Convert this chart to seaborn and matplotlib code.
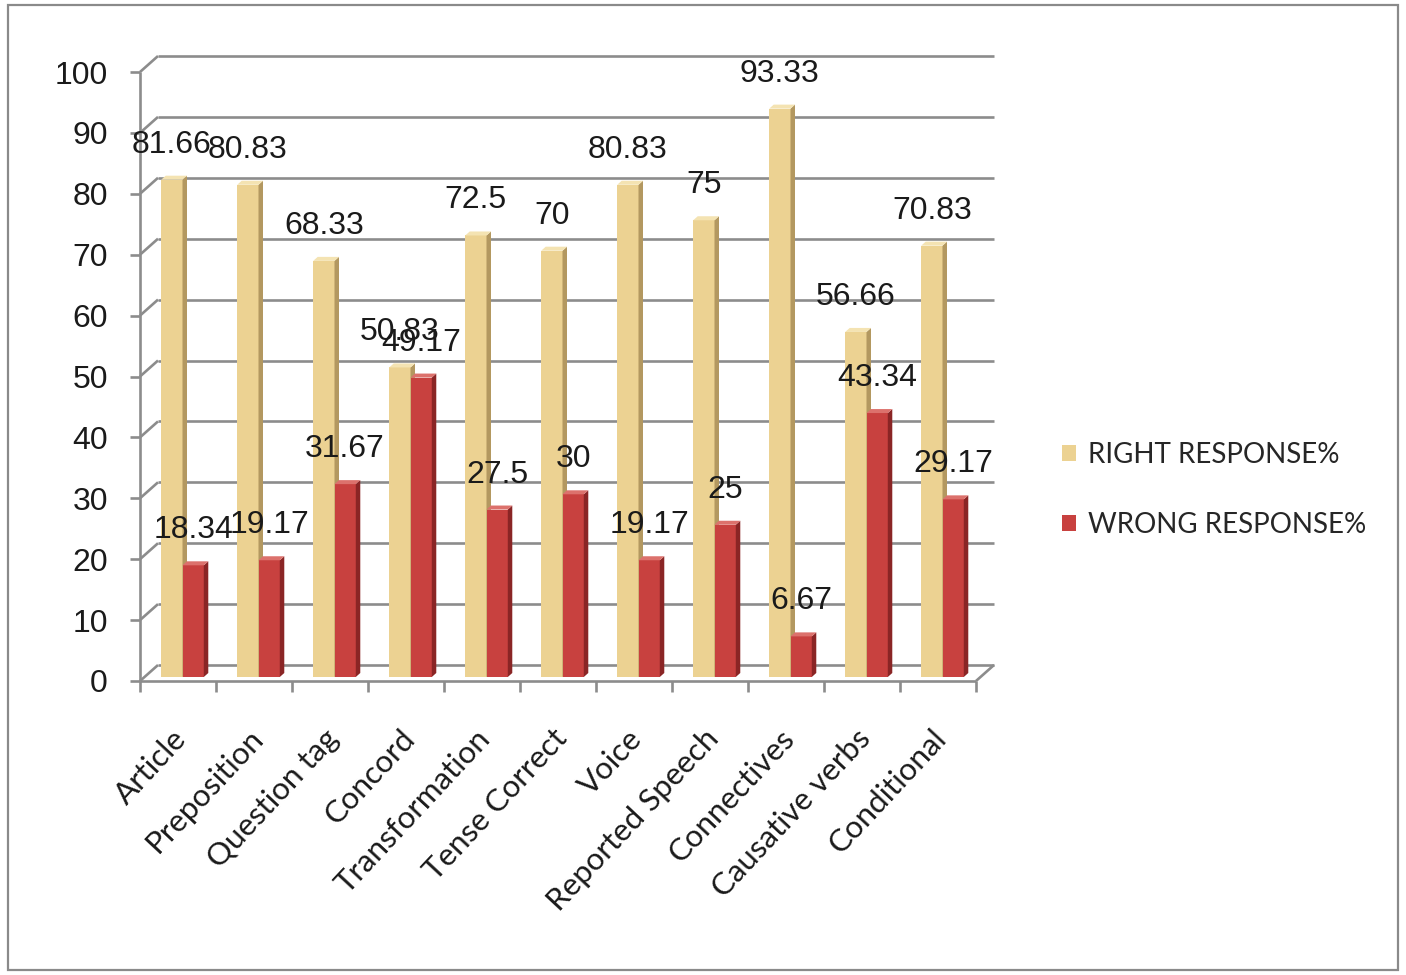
import matplotlib
matplotlib.use("Agg")
import matplotlib.pyplot as plt
from matplotlib.patches import Polygon, Patch, Rectangle
from matplotlib.lines import Line2D
from matplotlib.transforms import ScaledTranslation
import seaborn as sns
import pandas as pd

# ---- data -------------------------------------------------------------
categories = ["Article", "Preposition", "Question tag", "Concord", "Transformation",
              "Tense Correct", "Voice", "Reported Speech", "Connectives",
              "Causative verbs", "Conditional"]
right_response = [81.66, 80.83, 68.33, 50.83, 72.5, 70, 80.83, 75, 93.33, 56.66, 70.83]
wrong_response = [18.34, 19.17, 31.67, 49.17, 27.5, 30, 19.17, 25, 6.67, 43.34, 29.17]
series_names = ["RIGHT RESPONSE%", "WRONG RESPONSE%"]
y_ticks = list(range(0, 101, 10))

df = pd.DataFrame({
    "category": categories * 2,
    "value": right_response + wrong_response,
    "series": [series_names[0]] * len(categories) + [series_names[1]] * len(categories),
})

# ---- styling ----------------------------------------------------------
GOLD_FRONT, GOLD_SIDE, GOLD_TOP = "#ECD292", "#B39860", "#F4E3B2"
RED_FRONT, RED_SIDE, RED_TOP = "#C8413F", "#8A2525", "#DC716C"
GRID = "#8C8C8C"
NUM_FONT = "Liberation Sans"
TXT_FONT = "Lato"

sns.set_theme(style="white")
plt.rcParams["font.family"] = [NUM_FONT, "DejaVu Sans"]

W, H = 1406, 975
fig = plt.figure(figsize=(W / 100, H / 100), dpi=100)
fig.patch.set_facecolor("white")

# axes = front plane of the columns
ax_l, ax_r, ax_y0, ax_y100 = 144.5, 980.5, 677, 68
ax = fig.add_axes([ax_l / W, (H - ax_y0) / H, (ax_r - ax_l) / W, (ax_y0 - ax_y100) / H])
ax.set_facecolor("none")

sns.barplot(data=df, x="category", y="value", hue="series",
            palette=[GOLD_FRONT, RED_FRONT], width=0.56, saturation=1,
            edgecolor="none", linewidth=0, legend=False, ax=ax)
ax.set_xlim(-0.5, len(categories) - 0.5)
ax.set_ylim(0, 100)
for s in ax.spines.values():
    s.set_visible(False)
ax.set_xlabel("")
ax.set_ylabel("")

# pixel -> data unit conversion
sx = len(categories) / (ax_r - ax_l)
sy = 100 / (ax_y0 - ax_y100)
# depth offsets (pixels): back wall and front floor edge relative to column plane
bx, by = 13.5 * sx, 12 * sy
fx, fy = 4.5 * sx, 4 * sy
dx, dy = 4.5 * sx, 4 * sy   # column depth

line_kw = dict(color=GRID, lw=1.9, clip_on=False, solid_capstyle="butt", zorder=1)
x_lo, x_hi = -0.5, len(categories) - 0.5

# back wall gridlines + diagonals to the front axis
for v in y_ticks:
    ax.add_line(Line2D([x_lo + bx, x_hi + bx], [v + by, v + by], **line_kw))
    ax.add_line(Line2D([x_lo - fx, x_lo + bx], [v - fy, v + by], **line_kw))
    ax.add_line(Line2D([x_lo - fx - 10 * sx, x_lo - fx], [v - fy, v - fy], **line_kw))
# front vertical axis
ax.add_line(Line2D([x_lo - fx, x_lo - fx], [-fy, 100 - fy], **line_kw))
# floor front edge, right edge and category ticks
ax.add_line(Line2D([x_lo - fx, x_hi - fx], [-fy, -fy], **line_kw))
ax.add_line(Line2D([x_hi - fx, x_hi + bx], [-fy, by], **line_kw))
for k in range(len(categories) + 1):
    ax.add_line(Line2D([k - 0.5 - fx, k - 0.5 - fx], [-fy, -fy - 11 * sy], **line_kw))

# 3-D faces for the columns
face_cols = [(GOLD_SIDE, GOLD_TOP), (RED_SIDE, RED_TOP)]
for h, cont in enumerate(ax.containers):
    side_c, top_c = face_cols[h]
    for p in cont.patches:
        p.set_zorder(3 + 2 * h)
        x0, w, ht = p.get_x(), p.get_width(), p.get_height()
        x1 = x0 + w
        side = Polygon([(x1, 0), (x1 + dx, dy), (x1 + dx, ht + dy), (x1, ht)],
                       closed=True, facecolor=side_c, edgecolor="none",
                       zorder=3 + 2 * h, clip_on=False)
        top = Polygon([(x0, ht), (x0 + dx, ht + dy), (x1 + dx, ht + dy), (x1, ht)],
                      closed=True, facecolor=top_c, edgecolor="none",
                      zorder=3 + 2 * h, clip_on=False)
        ax.add_patch(side)
        ax.add_patch(top)

# value labels above every column
for cont in ax.containers:
    for p in cont.patches:
        val = p.get_height()
        ax.annotate(f"{val:g}", (p.get_x() + p.get_width() / 2, val),
                    xytext=(0, 25.2), textcoords="offset points",
                    ha="center", va="center", fontsize=23, color="#1a1a1a",
                    family=[NUM_FONT, "DejaVu Sans"], zorder=10, annotation_clip=False)

# y tick labels
ax.set_yticks(y_ticks)
ax.set_yticklabels([str(v) for v in y_ticks], fontsize=23, color="#1a1a1a",
                   family=[NUM_FONT, "DejaVu Sans"])
ax.tick_params(axis="y", length=0, pad=26.3, left=False)
for lab in ax.get_yticklabels():
    lab.set_transform(lab.get_transform() + ScaledTranslation(0, -0.04, fig.dpi_scale_trans))

# x tick labels
ax.set_xticks(range(len(categories)))
ax.set_xticklabels(categories, rotation=47, ha="right", rotation_mode="anchor",
                   fontsize=22.5, color="#1a1a1a", family=[TXT_FONT, "DejaVu Sans"])
ax.tick_params(axis="x", length=0, pad=34, bottom=False)
for lab in ax.get_xticklabels():
    lab.set_verticalalignment("top")
    lab.set_transform(lab.get_transform() + ScaledTranslation(-0.11, 0, fig.dpi_scale_trans))

# legend
handles = [Patch(facecolor=GOLD_FRONT, edgecolor="none"),
           Patch(facecolor=RED_FRONT, edgecolor="none")]
leg = fig.legend(handles, series_names, loc="center left",
                 bbox_to_anchor=(1037 / W, 1 - 490 / H), frameon=False,
                 handlelength=0.5, handleheight=0.5, handletextpad=0.45,
                 labelspacing=1.6, prop={"family": TXT_FONT, "size": 20})
for t in leg.get_texts():
    t.set_color("#262626")

# outer chart border
fig.add_artist(Rectangle((8 / W, 5 / H), 1390 / W, 965 / H, transform=fig.transFigure,
                         fill=False, edgecolor="#8a8a8a", lw=1.6))

fig.savefig("out.png", dpi=100)
